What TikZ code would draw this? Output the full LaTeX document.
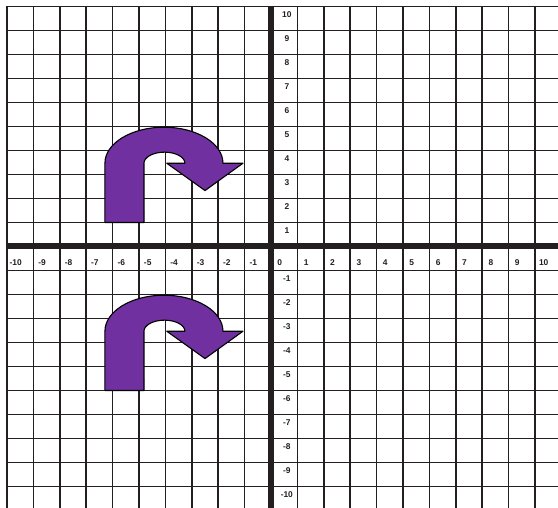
\documentclass[tikz,border=0pt]{standalone}
\usepackage{fontspec}
\setmainfont{Liberation Sans}
\usepackage{xcolor}
\usepackage{tikz}

\definecolor{gridink}{RGB}{35,31,32}
\definecolor{turnpurple}{RGB}{112,48,160}

\begin{document}
\begin{tikzpicture}[
    x=26.4pt, y=24pt,
    every node/.style={font=\fontsize{8.4}{9}\selectfont\bfseries, text=gridink, inner sep=0pt},
    gridline/.style={draw=gridink, line width=1.5pt},
    axisline/.style={draw=gridink, line width=6pt},
    uturn/.style={draw=black, line width=1.1pt, fill=turnpurple, line join=round}
]

% Frame of the page
\useasboundingbox (-10.265,-10.896) rectangle (10.871,10.27);

% Grid
\foreach \k in {-10,...,10} {
    \draw[gridline] (\k,10) -- (\k,-10.896);
    \draw[gridline] (-10,\k) -- (10.871,\k);
}

% Axes
\draw[axisline] (-10,0) -- (10.871,0);
\draw[axisline] (0,10) -- (0,-10.896);

% Numbers on the x axis
\foreach \k in {-10,...,10} {
    \node (xl\k) at (\k+0.33,-0.68) {\k};
}

% Numbers on the y axis
\foreach \k in {-10,...,-1,1,2,...,10} {
    \node (yl\k) at (0.6,\k-0.35) {\k};
}

% U-turn arrows
\foreach \dy in {0,-7} {
    \draw[uturn, shift={(0,\dy)}] (-6.29,1) -- (-6.29,3.47)
        arc[start angle=180, end angle=0, x radius=2.235, y radius=1.5]
        -- (-1.06,3.47) -- (-2.5,2.33) -- (-3.95,3.47) -- (-3.26,3.47)
        arc[start angle=0, end angle=180, x radius=0.776, y radius=0.46]
        -- (-4.81,1) -- cycle;
}

\end{tikzpicture}
\end{document}
